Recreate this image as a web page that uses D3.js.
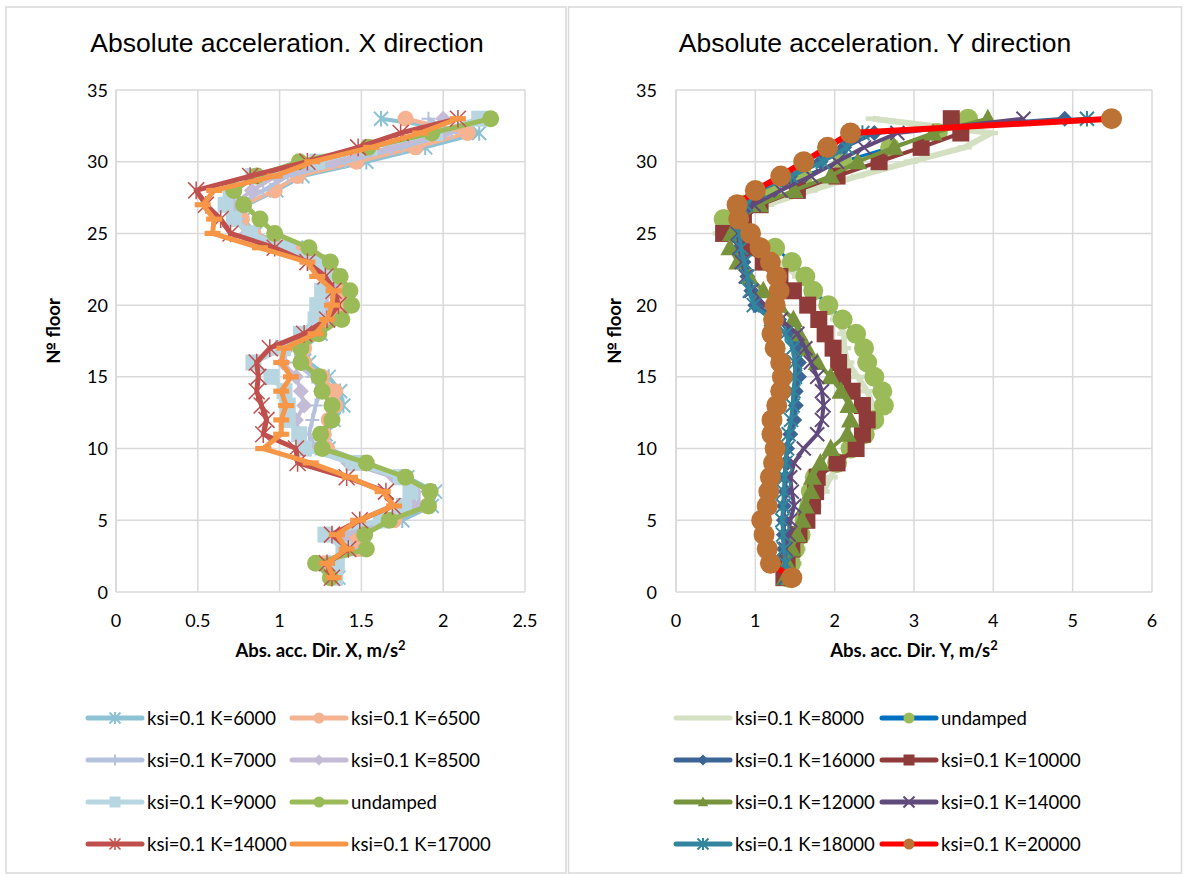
<!DOCTYPE html>
<html>
<head>
<meta charset="utf-8">
<script src="https://cdn.jsdelivr.net/npm/d3@7"></script>
<style>
  body { margin: 0; background: #fff; }
  svg { display: block; }
</style>
</head>
<body>
<div id="vis"></div>
<script>
// floors 1..33
const floors = [1,2,3,4,5,6,7,8,9,10,11,12,13,14,15,16,17,18,19,20,21,22,23,24,25,26,27,28,29,30,31,32,33];

// ---- X direction (left) ----
const xK6000  = [1.36,1.30,1.50,1.45,1.75,1.93,1.95,1.78,1.52,1.30,1.28,1.33,1.39,1.37,1.30,1.18,1.15,1.25,1.33,1.36,1.38,1.36,1.28,1.10,0.85,0.78,0.80,0.98,1.14,1.53,1.89,2.22,1.62];
const xK6500  = [1.34,1.28,1.48,1.45,1.70,1.90,1.92,1.75,1.50,1.29,1.27,1.30,1.34,1.34,1.26,1.15,1.15,1.22,1.32,1.37,1.38,1.35,1.26,1.08,0.84,0.77,0.78,0.97,1.11,1.47,1.83,2.15,1.77];
const xK7000  = [1.33,1.30,1.45,1.40,1.66,1.85,1.85,1.70,1.45,1.22,1.18,1.20,1.22,1.25,1.20,1.10,1.10,1.20,1.30,1.33,1.35,1.33,1.24,1.05,0.82,0.74,0.75,0.90,1.05,1.40,1.75,2.05,1.91];
const xK8500  = [1.33,1.30,1.42,1.38,1.62,1.82,1.82,1.70,1.42,1.18,1.12,1.10,1.15,1.13,1.10,1.02,1.05,1.16,1.27,1.28,1.30,1.30,1.22,1.02,0.80,0.72,0.72,0.83,0.98,1.33,1.68,2.00,2.00];
const xK9000  = [1.34,1.35,1.39,1.28,1.62,1.76,1.80,1.74,1.45,1.15,1.12,1.05,1.05,1.03,0.95,0.84,1.02,1.13,1.22,1.23,1.26,1.30,1.22,1.05,0.82,0.72,0.67,0.70,0.84,1.23,1.55,1.95,2.22];
const xUndamped = [1.31,1.22,1.53,1.52,1.67,1.91,1.92,1.77,1.53,1.26,1.25,1.32,1.32,1.26,1.24,1.13,1.13,1.24,1.38,1.44,1.43,1.37,1.31,1.18,0.97,0.88,0.78,0.72,0.86,1.12,1.54,1.93,2.29];
const xK14000 = [1.32,1.29,1.42,1.32,1.49,1.69,1.65,1.41,1.11,1.10,0.90,0.92,0.89,0.86,0.87,0.86,0.94,1.15,1.29,1.36,1.33,1.28,1.17,0.97,0.70,0.64,0.55,0.49,0.82,1.17,1.48,1.74,2.09];
const xK17000 = [1.33,1.29,1.41,1.35,1.48,1.70,1.63,1.43,1.19,0.90,1.01,1.01,1.04,1.01,1.07,1.01,1.03,1.22,1.29,1.32,1.33,1.23,1.17,0.88,0.59,0.60,0.53,0.60,0.97,1.20,1.56,1.86,2.09];

// ---- Y direction (right) ----
const yK8000  = [1.45,1.50,1.55,1.60,1.65,1.75,1.85,1.95,2.05,2.20,2.35,2.45,2.48,2.41,2.29,2.16,2.12,2.12,2.03,1.90,1.75,1.55,1.30,1.00,0.55,0.60,1.15,1.70,2.29,2.96,3.64,3.97,2.48];
const yUndamped = [1.42,1.45,1.50,1.57,1.62,1.68,1.70,1.75,2.03,2.20,2.38,2.50,2.62,2.60,2.50,2.41,2.37,2.27,2.10,1.92,1.73,1.63,1.46,1.25,0.90,0.60,0.85,1.20,1.60,2.10,2.70,3.30,3.68];
const yK16000 = [1.38,1.37,1.36,1.36,1.36,1.36,1.38,1.38,1.38,1.40,1.44,1.49,1.51,1.51,1.55,1.55,1.53,1.44,1.30,1.00,0.95,0.90,0.85,0.80,0.78,0.81,0.87,1.02,1.44,1.82,2.12,2.50,4.90];
const yK10000 = [1.36,1.40,1.46,1.55,1.65,1.72,1.76,1.78,2.03,2.27,2.35,2.41,2.35,2.22,2.10,2.05,1.98,1.88,1.80,1.66,1.48,1.31,1.10,0.89,0.60,0.85,1.06,1.53,2.03,2.56,3.09,3.59,3.47];
const yK12000 = [1.38,1.40,1.46,1.53,1.59,1.63,1.70,1.72,1.82,1.95,2.16,2.20,2.18,2.08,1.95,1.78,1.65,1.55,1.48,1.30,1.10,0.92,0.78,0.68,0.70,0.80,1.05,1.49,1.95,2.29,2.75,3.24,3.93];
const yK14000 = [1.38,1.38,1.38,1.42,1.44,1.49,1.46,1.44,1.49,1.61,1.78,1.84,1.86,1.84,1.78,1.70,1.63,1.53,1.32,1.12,0.95,0.88,0.83,0.80,0.78,0.83,0.98,1.32,1.70,2.03,2.37,2.79,4.38];
const yK18000 = [1.40,1.38,1.36,1.35,1.34,1.35,1.36,1.37,1.38,1.40,1.42,1.45,1.47,1.48,1.50,1.50,1.47,1.38,1.20,0.98,0.93,0.90,0.86,0.82,0.80,0.82,0.88,1.05,1.45,1.85,2.15,2.35,5.18];
const yK20000 = [1.46,1.19,1.15,1.11,1.08,1.15,1.17,1.19,1.23,1.25,1.21,1.21,1.27,1.32,1.34,1.32,1.25,1.21,1.23,1.25,1.30,1.27,1.19,1.06,0.94,0.79,0.77,1.00,1.32,1.61,1.91,2.20,5.49];

const xTicks = [0, 0.5, 1, 1.5, 2, 2.5];
const yTicksRight = [0, 1, 2, 3, 4, 5, 6];
const floorTicks = [0, 5, 10, 15, 20, 25, 30, 35];

const GRID = "#d9d9d9";
const FONT = "Lato, 'Liberation Sans', sans-serif";
const TITLE_FONT = "'Liberation Sans', Arial, sans-serif";

var svg = d3.select("#vis").append("svg")
    .attr("width", 1184)
    .attr("height", 874);

// panel borders
svg.append("rect").attr("x", 6).attr("y", 7).attr("width", 560).attr("height", 866)
    .attr("fill", "none").attr("stroke", GRID).attr("stroke-width", 1.5);
svg.append("rect").attr("x", 568.5).attr("y", 7).attr("width", 613).attr("height", 866)
    .attr("fill", "none").attr("stroke", GRID).attr("stroke-width", 1.5);

function markerPath(type, s) {
    switch (type) {
        case "circle": return d3.symbol(d3.symbolCircle, Math.PI * s * s)();
        case "square": return "M" + (-s) + "," + (-s) + "h" + (2*s) + "v" + (2*s) + "h" + (-2*s) + "Z";
        case "diamond": return "M0," + (-s) + "L" + s + ",0L0," + s + "L" + (-s) + ",0Z";
        case "triangle": return "M0," + (-s) + "L" + (s*0.95) + "," + (s*0.75) + "L" + (-s*0.95) + "," + (s*0.75) + "Z";
        case "dash": return "M" + (-s) + "," + (-s*0.32) + "h" + (2*s) + "v" + (s*0.64) + "h" + (-2*s) + "Z";
        case "x": return "M" + (-s) + "," + (-s) + "L" + s + "," + s + "M" + (-s) + "," + s + "L" + s + "," + (-s);
        case "star": return "M" + (-s) + "," + (-s) + "L" + s + "," + s + "M" + (-s) + "," + s + "L" + s + "," + (-s) + "M0," + (-s*1.1) + "L0," + (s*1.1);
        case "plus": return "M" + (-s) + ",0L" + s + ",0M0," + (-s) + "L0," + s;
    }
}
const STROKED = { x: true, star: true, plus: true };

function drawMarker(g, x, y, ser, s) {
    var p = g.append("path")
        .attr("d", markerPath(ser.marker, s))
        .attr("transform", "translate(" + x + "," + y + ")");
    if (STROKED[ser.marker]) {
        p.attr("fill", "none").attr("stroke", ser.markerColor).attr("stroke-width", ser.markerStroke || 2);
    } else {
        p.attr("fill", ser.markerColor).attr("stroke", "none");
    }
}

function drawPanel(cfg) {
    var x = d3.scaleLinear().domain(cfg.xDomain).range(cfg.xRange);
    var y = d3.scaleLinear().domain([0, 35]).range([592, 90]);
    var g = svg.append("g");

    // title
    g.append("text").attr("x", cfg.titleX).attr("y", 52)
        .attr("text-anchor", "middle")
        .style("font-family", TITLE_FONT).style("font-size", "26.5px")
        .text(cfg.title);

    // grid
    g.selectAll(".vg").data(cfg.xTicks).enter().append("line")
        .attr("x1", d => x(d)).attr("x2", d => x(d))
        .attr("y1", y(35)).attr("y2", y(0))
        .attr("stroke", GRID).attr("stroke-width", 1.5);
    g.selectAll(".hg").data(floorTicks).enter().append("line")
        .attr("x1", x(cfg.xDomain[0])).attr("x2", x(cfg.xDomain[1]))
        .attr("y1", d => y(d)).attr("y2", d => y(d))
        .attr("stroke", GRID).attr("stroke-width", 1.5);
    g.append("line")
        .attr("x1", x(cfg.xDomain[0])).attr("x2", x(cfg.xDomain[0]))
        .attr("y1", y(35)).attr("y2", y(0))
        .attr("stroke", GRID).attr("stroke-width", 1.5);

    // tick labels
    g.selectAll(".xl").data(cfg.xTicks).enter().append("text")
        .attr("x", d => x(d)).attr("y", 627)
        .attr("text-anchor", "middle")
        .style("font-family", FONT).style("font-size", "18px")
        .text(d => d);
    g.selectAll(".yl").data(floorTicks).enter().append("text")
        .attr("x", cfg.yLabelX).attr("y", d => y(d) + 6.5)
        .attr("text-anchor", "end")
        .style("font-family", FONT).style("font-size", "18px")
        .text(d => d);

    // axis titles
    var xt = g.append("text").attr("x", (cfg.xRange[0] + cfg.xRange[1]) / 2).attr("y", 657)
        .attr("text-anchor", "middle")
        .style("font-family", FONT).style("font-size", "18.5px").style("font-weight", "bold");
    xt.append("tspan").text(cfg.xTitle + ", m/s");
    xt.append("tspan").attr("dy", -7).style("font-size", "13px").text("2");
    g.append("text")
        .attr("transform", "translate(" + cfg.yTitleX + ",331) rotate(-90)")
        .attr("text-anchor", "middle")
        .style("font-family", FONT).style("font-size", "18.5px").style("font-weight", "bold")
        .text("№ floor");

    // series
    var line = d3.line().x(d => x(d[1])).y(d => y(d[0]));
    cfg.series.forEach(function (ser) {
        var pts = floors.map((f, i) => [f, ser.values[i]]);
        var sg = g.append("g");
        sg.append("path").datum(pts)
            .attr("d", line)
            .attr("fill", "none")
            .attr("stroke", ser.color)
            .attr("stroke-width", ser.width)
            .attr("stroke-linejoin", "round");
        if (ser.marker) {
            pts.forEach(p => drawMarker(sg, x(p[1]), y(p[0]), ser, ser.size));
        }
    });

    // legend
    cfg.series.forEach(function (ser, i) {
        var col = i % 2, row = Math.floor(i / 2);
        var lx = cfg.legendX[col], ly = 718 + row * 42;
        var lg = g.append("g");
        lg.append("line").attr("x1", lx).attr("x2", lx + 54)
            .attr("y1", ly).attr("y2", ly)
            .attr("stroke", ser.color).attr("stroke-width", 5)
            .attr("stroke-linecap", "round");
        if (ser.marker) drawMarker(lg, lx + 27, ly, ser, ser.legendSize || 5.5);
        lg.append("text").attr("x", lx + 59).attr("y", ly + 7)
            .style("font-family", FONT).style("font-size", "18.5px")
            .text(ser.name);
    });
}

drawPanel({
    title: "Absolute acceleration. X direction",
    titleX: 287,
    xDomain: [0, 2.5], xRange: [116, 525],
    xTicks: xTicks,
    yLabelX: 108, yTitleX: 60,
    xTitle: "Abs. acc. Dir. X",
    legendX: [88, 292],
    series: [
        { name: "ksi=0.1 K=6000", values: xK6000, color: "#8dc2d4", marker: "star", markerColor: "#8dc2d4", width: 4, size: 7, markerStroke: 2 },
        { name: "ksi=0.1 K=6500", values: xK6500, color: "#f5b392", marker: "circle", markerColor: "#f5b392", width: 4, size: 8 },
        { name: "ksi=0.1 K=7000", values: xK7000, color: "#b5c2dd", marker: "plus", markerColor: "#b5c2dd", width: 4, size: 7, markerStroke: 2 },
        { name: "ksi=0.1 K=8500", values: xK8500, color: "#c4bbd7", marker: "diamond", markerColor: "#c4bbd7", width: 4, size: 8 },
        { name: "ksi=0.1 K=9000", values: xK9000, color: "#b8d6e1", marker: "square", markerColor: "#b8d6e1", width: 5, size: 8 },
        { name: "undamped", values: xUndamped, color: "#9bbb59", marker: "circle", markerColor: "#9bbb59", width: 5, size: 8.5 },
        { name: "ksi=0.1 K=14000", values: xK14000, color: "#c0504d", marker: "star", markerColor: "#c0504d", width: 5, size: 8, markerStroke: 1.5 },
        { name: "ksi=0.1 K=17000", values: xK17000, color: "#f79646", marker: "dash", markerColor: "#f79646", width: 5, size: 8, legendSize: 0.1 }
    ]
});

drawPanel({
    title: "Absolute acceleration. Y direction",
    titleX: 875,
    xDomain: [0, 6], xRange: [676, 1152],
    xTicks: yTicksRight,
    yLabelX: 657, yTitleX: 621,
    xTitle: "Abs. acc. Dir. Y",
    legendX: [676, 882],
    series: [
        { name: "ksi=0.1 K=8000", values: yK8000, color: "#d4e0c2", marker: "dash", markerColor: "#d4e0c2", width: 6, size: 7, legendSize: 0.1 },
        { name: "undamped", values: yUndamped, color: "#0070c0", marker: "circle", markerColor: "#9bbb59", width: 3, size: 10 },
        { name: "ksi=0.1 K=16000", values: yK16000, color: "#3c6595", marker: "diamond", markerColor: "#3c6595", width: 4, size: 8 },
        { name: "ksi=0.1 K=10000", values: yK10000, color: "#8e3b39", marker: "square", markerColor: "#8e3b39", width: 4, size: 8.5 },
        { name: "ksi=0.1 K=12000", values: yK12000, color: "#77933c", marker: "triangle", markerColor: "#77933c", width: 4, size: 10 },
        { name: "ksi=0.1 K=14000", values: yK14000, color: "#604a7b", marker: "x", markerColor: "#604a7b", width: 4, size: 7, markerStroke: 2 },
        { name: "ksi=0.1 K=18000", values: yK18000, color: "#31859c", marker: "star", markerColor: "#31859c", width: 4, size: 7, markerStroke: 2 },
        { name: "ksi=0.1 K=20000", values: yK20000, color: "#ff0000", marker: "circle", markerColor: "#bb7234", width: 6, size: 10.5 }
    ]
});
</script>
</body>
</html>
